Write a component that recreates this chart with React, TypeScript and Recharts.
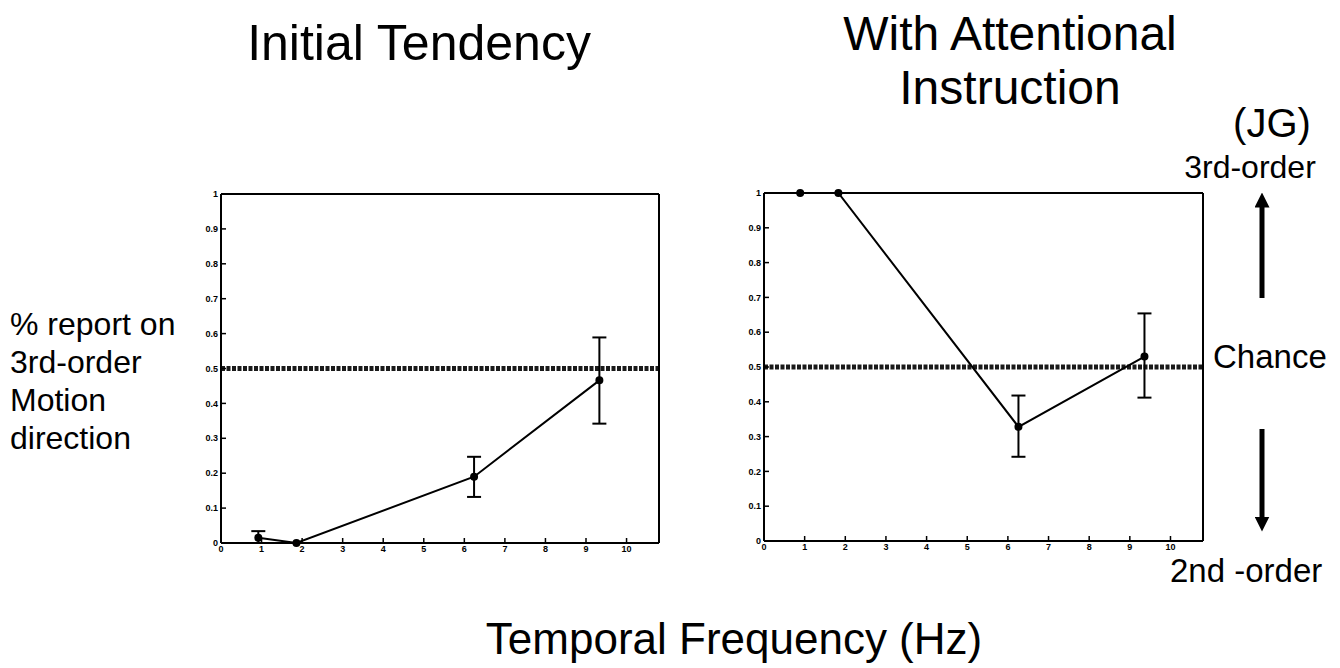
import { ErrorBar, Line, LineChart, ReferenceLine, XAxis, YAxis } from "recharts";

// frequency (Hz) and proportion of 3rd-order reports
const freqInitial = [0.92, 1.86, 6.24, 9.33];
const propInitial = [0.015, 0, 0.19, 0.466];
const lowInitial = [0, 0, 0.132, 0.342];
const highInitial = [0.034, 0, 0.247, 0.589];

const freqAttn = [0.89, 1.83, 6.26, 9.36];
const propAttn = [1, 1, 0.328, 0.53];
const lowAttn = [1, 1, 0.242, 0.412];
const highAttn = [1, 1, 0.418, 0.654];

const chanceLevel = 0.5;
const xTicks = [0, 1, 2, 3, 4, 5, 6, 7, 8, 9, 10];
const yTicks = [0, 0.1, 0.2, 0.3, 0.4, 0.5, 0.6, 0.7, 0.8, 0.9, 1];
const xDomain = [0, 10.8];

const yLabelLines = ["% report on", "3rd-order", "Motion", "direction"];

const FONT = '"Liberation Sans", Arial, Helvetica, sans-serif';

const buildRows = (f: number[], p: number[], lo: number[], hi: number[]) =>
  f.map((x, i) => ({ x, p: p[i], err: [p[i] - lo[i], hi[i] - p[i]] }));

const tickStyle = { fontSize: 9, fontWeight: 700, fill: "#000", fontFamily: FONT };
const axisLine = { stroke: "#000", strokeWidth: 2 };
const tickLine = { stroke: "#000", strokeWidth: 1.5 };

const fmt = (v: number) => String(Number(v.toFixed(1)));

interface PanelProps {
  rows: { x: number; p: number; err: number[] }[];
  width: number;
  height: number;
  margin: { top: number; right: number; bottom: number; left: number };
}

const Panel = ({ rows, width, height, margin }: PanelProps) => (
  <LineChart data={rows} width={width} height={height} margin={margin}>
    <XAxis
      type="number"
      dataKey="x"
      domain={xDomain}
      ticks={xTicks}
      allowDataOverflow
      height={20}
      axisLine={axisLine}
      tickLine={tickLine}
      tickSize={-5}
      tickMargin={8}
      tick={tickStyle}
      interval={0}
    />
    <XAxis
      xAxisId="top"
      orientation="top"
      type="number"
      domain={xDomain}
      ticks={xTicks}
      allowDataOverflow
      height={1}
      axisLine={axisLine}
      tickLine={tickLine}
      tickSize={-5}
      tick={false}
    />
    <YAxis
      type="number"
      domain={[0, 1]}
      ticks={yTicks}
      width={30}
      axisLine={axisLine}
      tickLine={tickLine}
      tickSize={-5}
      tickMargin={8}
      tick={tickStyle}
      tickFormatter={fmt}
      interval={0}
    />
    <YAxis
      yAxisId="right"
      orientation="right"
      type="number"
      domain={[0, 1]}
      ticks={yTicks}
      width={1}
      axisLine={axisLine}
      tickLine={tickLine}
      tickSize={-5}
      tick={false}
    />
    {/* chance level, drawn thick and beaded like the original marker line */}
    <ReferenceLine
      y={chanceLevel}
      stroke="#1a1a1a"
      strokeWidth={5}
      strokeDasharray="4 1.5"
    />
    <Line
      type="linear"
      dataKey="p"
      stroke="#000"
      strokeWidth={2}
      dot={{ r: 3, fill: "#000", stroke: "#000" }}
      isAnimationActive={false}
    >
      <ErrorBar dataKey="err" width={7} stroke="#000" strokeWidth={2} direction="y" />
    </Line>
  </LineChart>
);

export default function App() {
  const initialRows = buildRows(freqInitial, propInitial, lowInitial, highInitial);
  const attnRows = buildRows(freqAttn, propAttn, lowAttn, highAttn);

  return (
    <div
      style={{
        position: "absolute",
        left: 0,
        top: 0,
        width: 1340,
        height: 668,
        background: "#fff",
        fontFamily: FONT,
      }}
    >
      <div style={{ position: "absolute", left: 0, top: 0 }}>
        <Panel
          rows={initialRows}
          width={700}
          height={600}
          margin={{ top: 193, right: 40, bottom: 37, left: 191 }}
        />
      </div>
      <div style={{ position: "absolute", left: 700, top: 0 }}>
        <Panel
          rows={attnRows}
          width={560}
          height={600}
          margin={{ top: 192, right: 56, bottom: 39, left: 34 }}
        />
      </div>
      <svg
        width={1340}
        height={668}
        style={{ position: "absolute", left: 0, top: 0, pointerEvents: "none" }}
        fontFamily={FONT}
      >
        <defs>
          <marker id="head" markerWidth="3" markerHeight="3" refX="1.5" refY="1.5" orient="auto">
            <path d="M0,0 L3,1.5 L0,3 z" fill="#000" />
          </marker>
        </defs>
        <text x={419} y={60} fontSize={50} textAnchor="middle">
          Initial Tendency
        </text>
        <text x={1010} y={50} fontSize={48} textAnchor="middle">
          With Attentional
        </text>
        <text x={1010} y={104} fontSize={48} textAnchor="middle">
          Instruction
        </text>
        <text x={1272} y={137} fontSize={40} textAnchor="middle">
          (JG)
        </text>
        <text x={1250} y={178} fontSize={32} textAnchor="middle">
          3rd-order
        </text>
        <text x={1213} y={368} fontSize={33}>
          Chance
        </text>
        <text x={1170} y={582} fontSize={33}>
          2nd -order
        </text>
        {yLabelLines.map((t, i) => (
          <text key={t} x={10} y={335 + i * 38} fontSize={32}>
            {t}
          </text>
        ))}
        <text x={734} y={654} fontSize={44} textAnchor="middle">
          Temporal Frequency (Hz)
        </text>
        <line x1={1262} y1={298} x2={1262} y2={200} stroke="#000" strokeWidth={5} markerEnd="url(#head)" />
        <line x1={1262} y1={429} x2={1262} y2={524} stroke="#000" strokeWidth={5} markerEnd="url(#head)" />
      </svg>
    </div>
  );
}
